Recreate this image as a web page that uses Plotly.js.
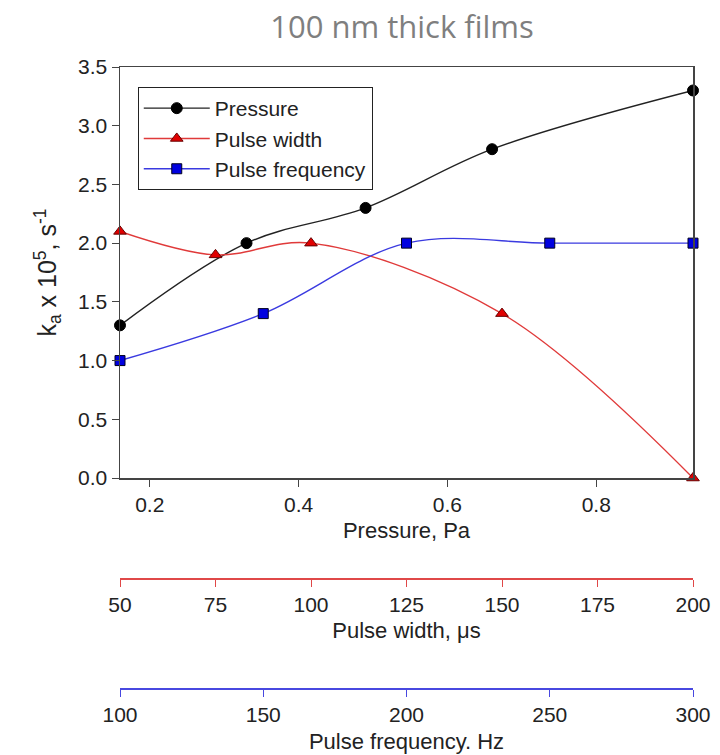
<!DOCTYPE html>
<html>
<head>
<meta charset="utf-8">
<script src="https://cdn.plot.ly/plotly-3.0.1.min.js"></script>
<style>html,body{margin:0;padding:0;background:#fff;}#chart{width:720px;height:755px;}</style>
</head>
<body>
<div id="chart"></div>
<script>
// Data
const pressureX = [0.16, 0.33, 0.49, 0.66, 0.93];
const pressureK = [1.3, 2.0, 2.3, 2.8, 3.3];
const widthX = [50, 75, 100, 150, 200];
const widthK = [2.1, 1.9, 2.0, 1.4, 0.0];
const freqX = [100, 150, 200, 250, 300];
const freqK = [1.0, 1.4, 2.0, 2.0, 2.0];
const seriesNames = ["Pressure", "Pulse width", "Pulse frequency"];
const chartTitle = "100 nm thick films";

const tickFont = {family: "Liberation Sans, Arial, sans-serif", size: 21, color: "#222"};
const titleFont = {family: "Liberation Sans, Arial, sans-serif", size: 22, color: "#222"};

const traces = [
  {x: pressureX, y: pressureK, name: seriesNames[0], type: "scatter", mode: "lines+markers",
   xaxis: "x", yaxis: "y", cliponaxis: false,
   line: {color: "#222", width: 1.4, shape: "spline", smoothing: 1},
   marker: {symbol: "circle", size: 11, color: "#000", line: {color: "#000", width: 1}}},
  {x: widthX, y: widthK, name: seriesNames[1], type: "scatter", mode: "lines+markers",
   xaxis: "x2", yaxis: "y", cliponaxis: false,
   line: {color: "#e03a3a", width: 1.4, shape: "spline", smoothing: 1},
   marker: {symbol: "triangle-up", size: 11, color: "#e00000", line: {color: "#600", width: 1}}},
  {x: freqX, y: freqK, name: seriesNames[2], type: "scatter", mode: "lines+markers",
   xaxis: "x3", yaxis: "y", cliponaxis: false,
   line: {color: "#3a3ae0", width: 1.4, shape: "spline", smoothing: 1},
   marker: {symbol: "square", size: 10, color: "#0000e0", line: {color: "#002", width: 1}}}
];

const layout = {
  width: 720, height: 755,
  margin: {l: 120, r: 27, t: 67, b: 10},
  paper_bgcolor: "#fff", plot_bgcolor: "#fff",
  title: {text: chartTitle, font: {family: "Open Sans, Noto Sans, sans-serif", size: 31, color: "#7f7f7f"},
          xref: "container", x: 402/720, xanchor: "center", yref: "container", y: 1 - 27/755, yanchor: "middle"},
  showlegend: true,
  legend: {x: 0.031, y: 0.9705, xanchor: "left", yanchor: "top", bgcolor: "#fff",
           bordercolor: "#222", borderwidth: 1, itemwidth: 66,
           font: {family: "Liberation Sans, Arial, sans-serif", size: 21, color: "#222"},
           tracegroupgap: 0},
  xaxis: {range: [0.16, 0.93], tick0: 0.2, dtick: 0.2, tickformat: ".1f", ticks: "outside", ticklen: 7,
          tickcolor: "#444", showline: true, linecolor: "#444", linewidth: 1.5, mirror: true,
          showgrid: false, zeroline: false, tickfont: tickFont,
          title: {text: "Pressure, Pa", font: titleFont, standoff: 8}, anchor: "y"},
  xaxis2: {range: [50, 200], tick0: 50, dtick: 25, ticks: "outside", ticklen: 7, tickcolor: "#e04848",
           showline: true, linecolor: "#e04848", linewidth: 1.5, showgrid: false, zeroline: false,
           tickfont: tickFont, overlaying: "x", anchor: "free", position: (745-578)/678, side: "bottom",
           title: {text: "Pulse width, μs", font: titleFont, standoff: 8}},
  xaxis3: {range: [100, 300], tick0: 100, dtick: 50, ticks: "outside", ticklen: 7, tickcolor: "#4848e0",
           showline: true, linecolor: "#4848e0", linewidth: 1.5, showgrid: false, zeroline: false,
           tickfont: tickFont, overlaying: "x", anchor: "free", position: (745-688)/678, side: "bottom",
           title: {text: "Pulse frequency. Hz", font: titleFont, standoff: 9}},
  yaxis: {domain: [(745-478)/678, 1], range: [0, 3.5], dtick: 0.5, tickformat: ".1f", ticks: "outside", ticklen: 7,
          tickcolor: "#444", showline: true, linecolor: "#444", linewidth: 1.5, mirror: true,
          showgrid: false, zeroline: false, tickfont: tickFont,
          title: {text: "k<sub>a</sub> x 10<sup>5</sup>, s<sup>-1</sup>",
                  font: {family: "Liberation Sans, Arial, sans-serif", size: 25, color: "#222"}, standoff: 14}}
};

Plotly.newPlot("chart", traces, layout, {displayModeBar: false, staticPlot: true});
</script>
</body>
</html>
